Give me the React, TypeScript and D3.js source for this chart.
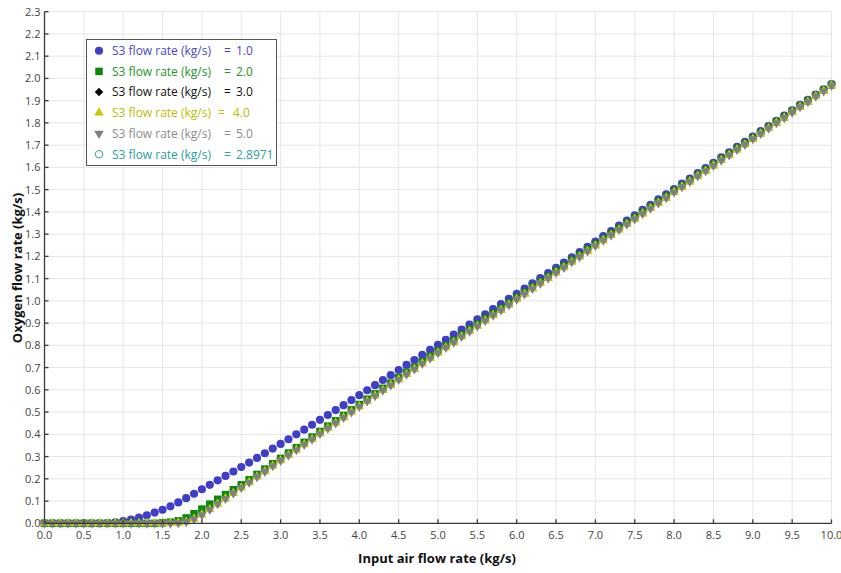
import React from "react";
import * as d3 from "d3";

// input air flow rate (kg/s)
const airFlow = [
  0.0, 0.1, 0.2, 0.3, 0.4, 0.5, 0.6, 0.7, 0.8, 0.9,
  1.0, 1.1, 1.2, 1.3, 1.4, 1.5, 1.6, 1.7, 1.8, 1.9,
  2.0, 2.1, 2.2, 2.3, 2.4, 2.5, 2.6, 2.7, 2.8, 2.9,
  3.0, 3.1, 3.2, 3.3, 3.4, 3.5, 3.6, 3.7, 3.8, 3.9,
  4.0, 4.1, 4.2, 4.3, 4.4, 4.5, 4.6, 4.7, 4.8, 4.9,
  5.0, 5.1, 5.2, 5.3, 5.4, 5.5, 5.6, 5.7, 5.8, 5.9,
  6.0, 6.1, 6.2, 6.3, 6.4, 6.5, 6.6, 6.7, 6.8, 6.9,
  7.0, 7.1, 7.2, 7.3, 7.4, 7.5, 7.6, 7.7, 7.8, 7.9,
  8.0, 8.1, 8.2, 8.3, 8.4, 8.5, 8.6, 8.7, 8.8, 8.9,
  9.0, 9.1, 9.2, 9.3, 9.4, 9.5, 9.6, 9.7, 9.8, 9.9,
  10.0,
];

// oxygen flow rate (kg/s), S3 = 1.0
const oxygenS3_1 = [
  0, 0, 0, 0, 0, 0, 0, 0, 0.001, 0.004,
  0.010, 0.017, 0.026, 0.036, 0.048, 0.061, 0.076, 0.094, 0.113, 0.133,
  0.153, 0.173, 0.193, 0.213, 0.233, 0.253, 0.273, 0.294, 0.315, 0.336,
  0.357, 0.378, 0.400, 0.421, 0.443, 0.465, 0.487, 0.509, 0.531, 0.554,
  0.576, 0.598, 0.621, 0.644, 0.666, 0.689, 0.712, 0.734, 0.757, 0.780,
  0.802, 0.825, 0.848, 0.871, 0.894, 0.917, 0.940, 0.963, 0.986, 1.009,
  1.032, 1.055, 1.079, 1.102, 1.125, 1.149, 1.172, 1.196, 1.219, 1.243,
  1.267, 1.291, 1.314, 1.338, 1.361, 1.385, 1.409, 1.432, 1.456, 1.479,
  1.503, 1.527, 1.550, 1.574, 1.597, 1.621, 1.645, 1.668, 1.692, 1.715,
  1.739, 1.763, 1.786, 1.810, 1.833, 1.857, 1.881, 1.904, 1.928, 1.951,
  1.975,
];

// S3 = 2.0
const oxygenS3_2 = [
  0, 0, 0, 0, 0, 0, 0, 0, 0, 0,
  0, 0, 0, 0, 0, 0.002, 0.005, 0.011, 0.024, 0.043,
  0.064, 0.086, 0.108, 0.129, 0.151, 0.173, 0.196, 0.220, 0.244, 0.268,
  0.292, 0.316, 0.340, 0.364, 0.388, 0.413, 0.437, 0.461, 0.485, 0.510,
  0.534, 0.558, 0.582, 0.607, 0.630, 0.655, 0.679, 0.702, 0.727, 0.751,
  0.774, 0.798, 0.822, 0.847, 0.871, 0.895, 0.919, 0.943, 0.966, 0.990,
  1.014, 1.038, 1.062, 1.086, 1.109, 1.134, 1.157, 1.182, 1.205, 1.230,
  1.254, 1.278, 1.302, 1.326, 1.350, 1.374, 1.398, 1.422, 1.446, 1.469,
  1.494, 1.518, 1.541, 1.566, 1.589, 1.613, 1.637, 1.660, 1.685, 1.708,
  1.732, 1.756, 1.780, 1.804, 1.827, 1.852, 1.876, 1.899, 1.924, 1.947,
  1.971,
];

// S3 = 3.0, 4.0, 5.0 and 2.8971 lie on top of each other
const oxygenS3_3 = [
  0, 0, 0, 0, 0, 0, 0, 0, 0, 0,
  0, 0, 0, 0, 0, 0, 0, 0.002, 0.007, 0.020,
  0.038, 0.062, 0.087, 0.111, 0.135, 0.160, 0.184, 0.209, 0.233, 0.258,
  0.282, 0.306, 0.330, 0.354, 0.378, 0.403, 0.427, 0.451, 0.475, 0.500,
  0.525, 0.549, 0.573, 0.598, 0.621, 0.646, 0.670, 0.693, 0.718, 0.742,
  0.766, 0.790, 0.814, 0.839, 0.863, 0.887, 0.911, 0.935, 0.958, 0.982,
  1.007, 1.031, 1.055, 1.079, 1.102, 1.127, 1.150, 1.175, 1.198, 1.223,
  1.248, 1.272, 1.296, 1.320, 1.344, 1.368, 1.392, 1.416, 1.440, 1.463,
  1.489, 1.513, 1.536, 1.561, 1.584, 1.608, 1.632, 1.655, 1.680, 1.703,
  1.728, 1.752, 1.776, 1.800, 1.823, 1.848, 1.872, 1.895, 1.920, 1.943,
  1.968,
];
const oxygenS3_4 = oxygenS3_3;
const oxygenS3_5 = oxygenS3_3;
const oxygenS3_opt = oxygenS3_3;

const xTicks = [0, 0.5, 1, 1.5, 2, 2.5, 3, 3.5, 4, 4.5, 5, 5.5, 6, 6.5, 7, 7.5, 8, 8.5, 9, 9.5, 10];
const yTicks = [0, 0.1, 0.2, 0.3, 0.4, 0.5, 0.6, 0.7, 0.8, 0.9, 1.0, 1.1, 1.2, 1.3, 1.4, 1.5, 1.6, 1.7, 1.8, 1.9, 2.0, 2.1, 2.2, 2.3];

const legendValues = ["1.0", "2.0", "3.0", "4.0", "5.0", "2.8971"];

const FONT = "'Open Sans', 'Noto Sans', sans-serif";

type Series = {
  name: string;
  values: number[];
  shape: d3.SymbolType;
  size: number;
  legendSize: number;
  rotate: number;
  fill: string;
  stroke: string;
  text: string;
};

const series: Series[] = [
  { name: "s1", values: oxygenS3_1, shape: d3.symbolCircle, size: 52, legendSize: 52, rotate: 0, fill: "#3e3ec9", stroke: "none", text: "#4747cf" },
  { name: "s2", values: oxygenS3_2, shape: d3.symbolSquare, size: 56, legendSize: 56, rotate: 0, fill: "#0b870b", stroke: "none", text: "#23962a" },
  { name: "s3", values: oxygenS3_3, shape: d3.symbolSquare, size: 22, legendSize: 36, rotate: 45, fill: "#000000", stroke: "none", text: "#111111" },
  { name: "s4", values: oxygenS3_4, shape: d3.symbolTriangle, size: 40, legendSize: 40, rotate: 0, fill: "#c9c900", stroke: "none", text: "#bcbc00" },
  { name: "s5", values: oxygenS3_5, shape: d3.symbolTriangle, size: 38, legendSize: 40, rotate: 180, fill: "#7f7f7f", stroke: "none", text: "#8c8c8c" },
  { name: "s6", values: oxygenS3_opt, shape: d3.symbolCircle, size: 12, legendSize: 44, rotate: 0, fill: "none", stroke: "#2aa6a6", text: "#2a9fa0" },
];

// the hollow cyan markers go first so they stay hidden, as in the original
const drawOrder = [5, 0, 1, 2, 3, 4];

export default function App() {
  const x = d3.scaleLinear().domain([0, 10]).range([44.5, 831.5]);
  const y = d3.scaleLinear().domain([0, 2.3]).range([523.3, 11.7]);

  const axisColor = "#3a3a3a";
  const tickColor = "#444";

  return (
    <svg width={841} height={573} style={{ position: "absolute", left: 0, top: 0, background: "#fff" }}>
      {/* grid */}
      <g stroke="#e6e6e6" strokeWidth={1}>
        {xTicks.slice(1).map((t) => (
          <line key={"gx" + t} x1={x(t)} x2={x(t)} y1={y(0)} y2={y(2.3)} />
        ))}
        {yTicks.slice(1).map((t) => (
          <line key={"gy" + t} x1={x(0)} x2={x(10)} y1={y(t)} y2={y(t)} />
        ))}
      </g>

      {/* markers */}
      {drawOrder.map((si) => {
        const s = series[si];
        const path = d3.symbol().type(s.shape).size(s.size)()!;
        return (
          <g key={s.name}>
            {s.values.map((v, i) => (
              <path
                key={i}
                d={path}
                transform={`translate(${x(airFlow[i])},${y(v)}) rotate(${s.rotate})`}
                fill={s.fill}
                stroke={s.stroke}
                strokeWidth={1}
              />
            ))}
          </g>
        );
      })}

      {/* axes */}
      <g stroke={axisColor} strokeWidth={1.3}>
        <line x1={x(0)} x2={x(10)} y1={y(0)} y2={y(0)} />
        <line x1={x(0)} x2={x(0)} y1={y(0)} y2={y(2.3)} />
        {xTicks.map((t) => (
          <line key={"tx" + t} x1={x(t)} x2={x(t)} y1={y(0)} y2={y(0) - 4} />
        ))}
        {yTicks.map((t) => (
          <line key={"ty" + t} x1={x(0)} x2={x(0) + 4} y1={y(t)} y2={y(t)} />
        ))}
      </g>
      <g fontFamily={FONT} fontSize={11} fill={tickColor}>
        {xTicks.map((t) => (
          <text key={"lx" + t} x={x(t)} y={y(0) + 16} textAnchor="middle">
            {t.toFixed(1)}
          </text>
        ))}
        {yTicks.map((t) => (
          <text key={"ly" + t} x={x(0) - 4} y={y(t) + 4} textAnchor="end">
            {t.toFixed(1)}
          </text>
        ))}
      </g>

      {/* axis titles */}
      <text x={437} y={563} textAnchor="middle" fontFamily={FONT} fontSize={13} fontWeight="bold" fill="#111">
        Input air flow rate (kg/s)
      </text>
      <text
        transform="translate(22,268) rotate(-90)"
        textAnchor="middle"
        fontFamily={FONT}
        fontSize={13}
        fontWeight="bold"
        fill="#111"
      >
        Oxygen flow rate (kg/s)
      </text>

      {/* legend */}
      <g>
        <rect x={86.5} y={39.5} width={190} height={126} fill="#fff" stroke="#555" strokeWidth={1} />
        {series.map((s, i) => {
          const cy = 50.7 + i * 20.7;
          const path = d3.symbol().type(s.shape).size(s.legendSize)();
          const eqX = i === 3 ? 218 : 224;
          const valX = i === 3 ? 233 : 236;
          return (
            <g key={"lg" + s.name} fontFamily={FONT} fontSize={12} fill={s.text}>
              <path
                d={path!}
                transform={`translate(99,${cy}) rotate(${s.rotate})`}
                fill={s.fill}
                stroke={s.stroke}
                strokeWidth={1}
              />
              <text x={112} y={cy + 4.3}>S3 flow rate (kg/s)</text>
              <text x={eqX} y={cy + 4.3}>=</text>
              <text x={valX} y={cy + 4.3}>{legendValues[i]}</text>
            </g>
          );
        })}
      </g>
    </svg>
  );
}
